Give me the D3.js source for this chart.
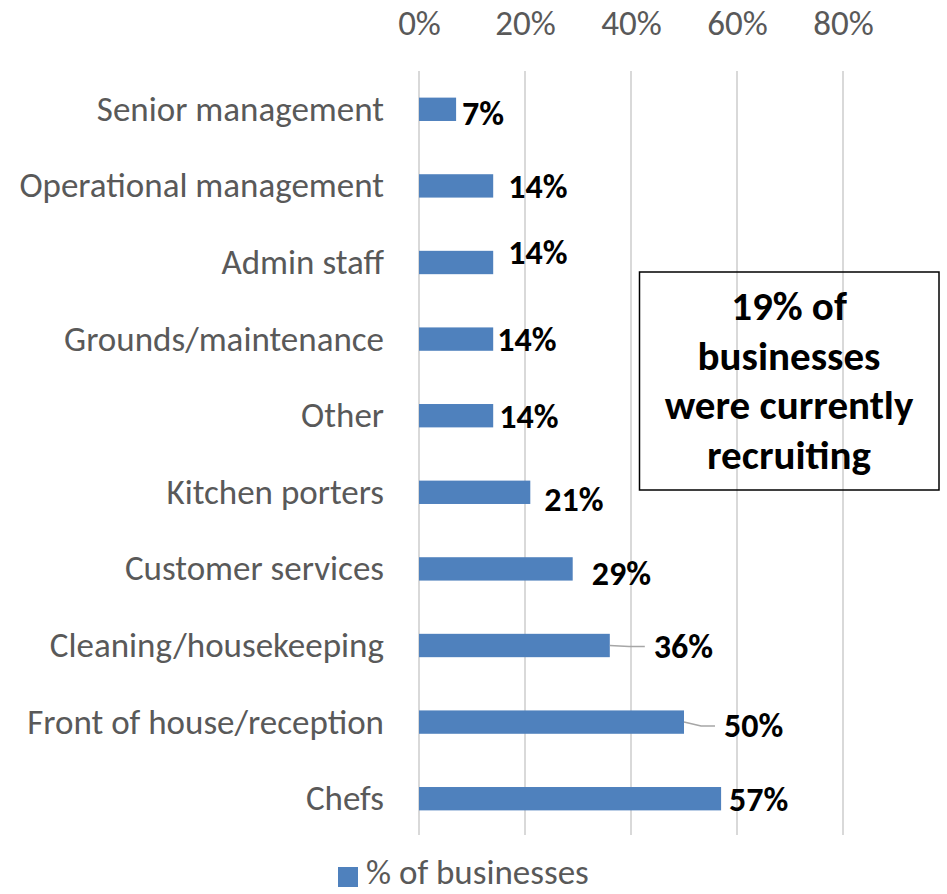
<!DOCTYPE html>
<html>
<head>
<meta charset="utf-8">
<script src="https://cdn.jsdelivr.net/npm/d3@7"></script>
<style>
  html, body { margin: 0; padding: 0; background: #fff; }
  svg { display: block; }
  text { font-family: Carlito, Calibri, Lato, "DejaVu Sans", sans-serif; }
</style>
</head>
<body>
<svg id="chart" width="947" height="894"></svg>
<script>
// Roles being recruited for (top to bottom) and share of recruiting businesses
const categories = [
  "Senior management",
  "Operational management",
  "Admin staff",
  "Grounds/maintenance",
  "Other",
  "Kitchen porters",
  "Customer services",
  "Cleaning/housekeeping",
  "Front of house/reception",
  "Chefs"
];
const values = [7, 14, 14, 14, 14, 21, 29, 36, 50, 57];
const tickValues = [0, 20, 40, 60, 80];
const seriesName = "% of businesses";
const calloutLines = ["19% of", "businesses", "were currently", "recruiting"];

// Hand-placed label nudges (px from bar end / bar centre); leader marks labels pulled away from the bar
const labelNudge = [
  { dx: 6,  dy: 4 },
  { dx: 15, dy: 1 },
  { dx: 15, dy: -10 },
  { dx: 4,  dy: 1 },
  { dx: 6,  dy: 1 },
  { dx: 14, dy: 7 },
  { dx: 19, dy: 5 },
  { dx: 44, dy: 1, leader: true },
  { dx: 40, dy: 4, leader: true },
  { dx: 8,  dy: 1 }
];

const svg = d3.select("#chart");
const plot = { left: 419, top: 71, bottom: 837 };

const x = d3.scaleLinear().domain([0, 1]).range([plot.left, plot.left + 530]);
const y = d3.scaleBand()
  .domain(categories)
  .range([plot.top, plot.bottom])
  .paddingInner(0.695)
  .paddingOuter(0.3475);

const pct = v => v / 100;

// Vertical gridlines
svg.append("g")
  .selectAll("line")
  .data(tickValues)
  .join("line")
  .attr("x1", d => x(pct(d)))
  .attr("x2", d => x(pct(d)))
  .attr("y1", plot.top)
  .attr("y2", plot.bottom - 2)
  .attr("stroke", "#d9d9d9")
  .attr("stroke-width", 2);

// Top axis tick labels
const xAxis = d3.axisTop(x)
  .tickValues(tickValues.map(pct))
  .tickFormat(d3.format(".0%"))
  .tickSize(0)
  .tickPadding(0);
const gx = svg.append("g")
  .attr("transform", "translate(0,35)")
  .call(xAxis);
gx.select(".domain").remove();
gx.selectAll("text")
  .attr("fill", "#595959")
  .attr("font-size", 35)
  .attr("dy", 0);

// Category axis labels
const yAxis = d3.axisLeft(y).tickSize(0).tickPadding(0);
const gy = svg.append("g")
  .attr("transform", "translate(384,0)")
  .call(yAxis);
gy.select(".domain").remove();
gy.selectAll("text")
  .attr("fill", "#595959")
  .attr("font-size", 35)
  .attr("dy", "0.33em");

// Bars
svg.append("g")
  .selectAll("rect")
  .data(values)
  .join("rect")
  .attr("x", x(0))
  .attr("y", (d, i) => y(categories[i]))
  .attr("width", d => x(pct(d)) - x(0))
  .attr("height", y.bandwidth())
  .attr("fill", "#4f81bd");

// Leader lines for labels pulled away from their bars
const labels = values.map((v, i) => {
  const n = labelNudge[i];
  const cy = y(categories[i]) + y.bandwidth() / 2;
  return { v, i, bx: x(pct(v)), cy, lx: x(pct(v)) + n.dx, ly: cy + n.dy, leader: n.leader };
});

svg.append("g")
  .selectAll("path")
  .data(labels.filter(d => d.leader))
  .join("path")
  .attr("d", d => {
    const endX = d.lx - 9;
    const midX = d.bx + (endX - d.bx) * 0.55;
    return `M${d.bx},${d.cy} L${midX},${d.ly} L${endX},${d.ly}`;
  })
  .attr("fill", "none")
  .attr("stroke", "#a6a6a6")
  .attr("stroke-width", 1.5);

// Value labels
svg.append("g")
  .selectAll("text")
  .data(labels)
  .join("text")
  .attr("x", d => d.lx)
  .attr("y", d => d.ly)
  .attr("dy", "0.33em")
  .attr("font-size", 34)
  .attr("font-weight", "bold")
  .attr("fill", "#000")
  .text(d => d3.format(".0%")(pct(d.v)));

// Callout box
svg.append("rect")
  .attr("x", 639.5)
  .attr("y", 272)
  .attr("width", 299.5)
  .attr("height", 218)
  .attr("fill", "none")
  .attr("stroke", "#000")
  .attr("stroke-width", 1.5);

svg.append("g")
  .selectAll("text")
  .data(calloutLines)
  .join("text")
  .attr("x", 789)
  .attr("y", (d, i) => 320 + i * 49.5)
  .attr("text-anchor", "middle")
  .attr("font-size", 41)
  .attr("font-weight", "bold")
  .attr("fill", "#000")
  .text(d => d);

// Legend
const legend = svg.append("g");
legend.append("rect")
  .attr("x", 338)
  .attr("y", 867)
  .attr("width", 20)
  .attr("height", 20)
  .attr("fill", "#4f81bd");
legend.append("text")
  .attr("x", 366)
  .attr("y", 884)
  .attr("font-size", 35)
  .attr("fill", "#595959")
  .text(seriesName);
</script>
</body>
</html>
